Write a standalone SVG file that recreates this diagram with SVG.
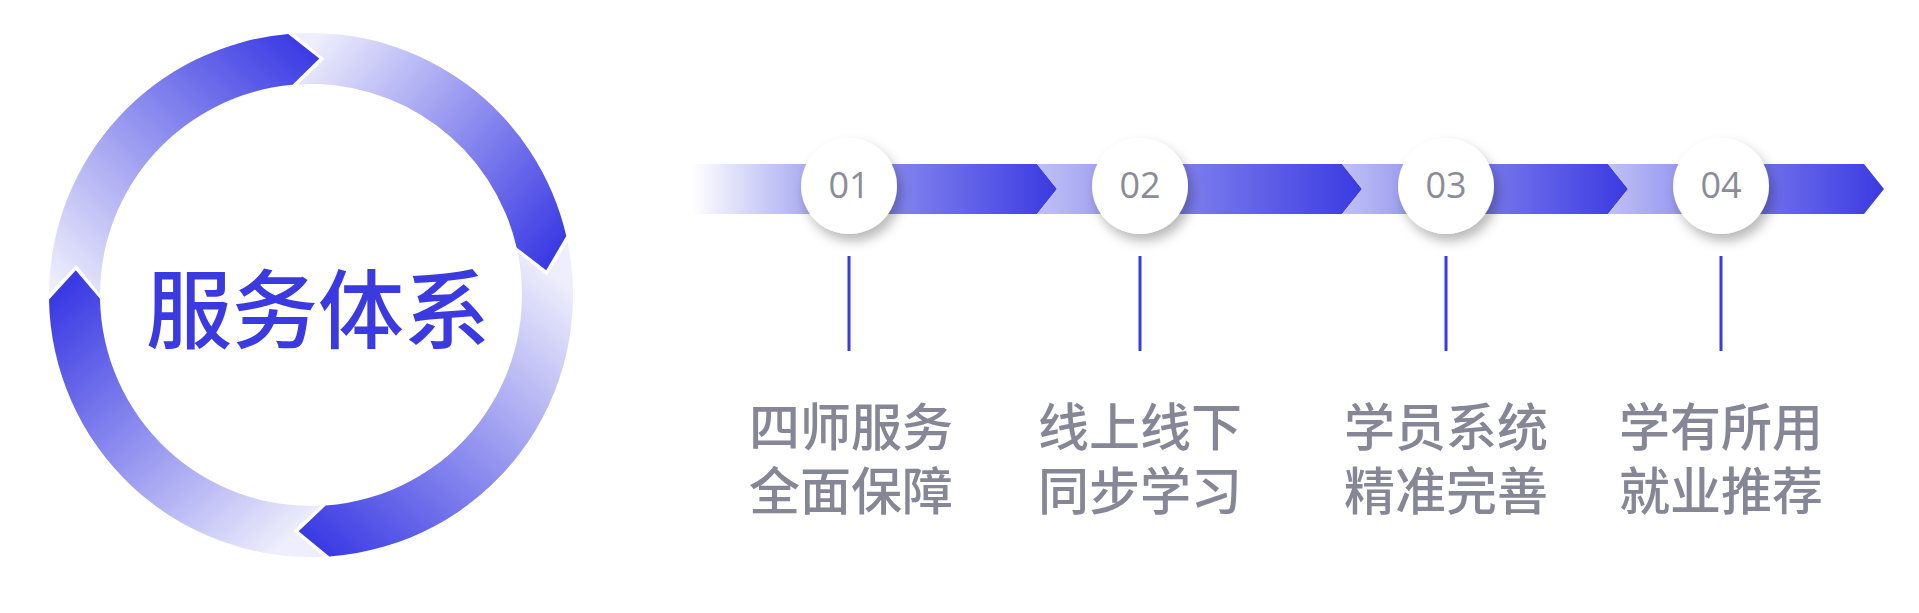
<svg xmlns="http://www.w3.org/2000/svg" width="1919" height="613" viewBox="0 0 1919 613">
<style>
.num{font-family:"Open Sans","Noto Sans",sans-serif;font-size:36px;fill:#8a8c99;text-anchor:middle}
.lab{font-family:"Noto Sans CJK SC","Noto Sans",sans-serif;font-size:51px;fill:#858796;text-anchor:middle;font-weight:500}
.vl{stroke:#3a3ae0;stroke-width:3}
.dot{fill:#fff;filter:url(#sh)}
</style>
<defs>
<filter id="sh" x="-50%" y="-50%" width="200%" height="200%"><feDropShadow dx="4" dy="7" stdDeviation="6" flood-color="#000" flood-opacity="0.28"/></filter>
<linearGradient id="gA" gradientUnits="userSpaceOnUse" x1="60" y1="290" x2="300" y2="40"><stop offset="0" stop-color="#eeeefc"/><stop offset="1" stop-color="#3a3ae4"/></linearGradient>
<linearGradient id="gB" gradientUnits="userSpaceOnUse" x1="300" y1="60" x2="550" y2="260"><stop offset="0" stop-color="#eeeefc"/><stop offset="1" stop-color="#3a3ae4"/></linearGradient>
<linearGradient id="gC" gradientUnits="userSpaceOnUse" x1="550" y1="270" x2="310" y2="540"><stop offset="0" stop-color="#eeeefc"/><stop offset="1" stop-color="#3a3ae4"/></linearGradient>
<linearGradient id="gD" gradientUnits="userSpaceOnUse" x1="300" y1="530" x2="75" y2="280"><stop offset="0" stop-color="#eeeefc"/><stop offset="1" stop-color="#3a3ae4"/></linearGradient>
<linearGradient id="s1" gradientUnits="userSpaceOnUse" x1="692" y1="0" x2="1057" y2="0"><stop offset="0" stop-color="#ffffff"/><stop offset="0.3" stop-color="#aeb0f2"/><stop offset="0.55" stop-color="#8485ee"/><stop offset="1" stop-color="#3a3ae2"/></linearGradient>
<linearGradient id="s2" gradientUnits="userSpaceOnUse" x1="1037" y1="0" x2="1362" y2="0"><stop offset="0" stop-color="#c0c1f5"/><stop offset="0.35" stop-color="#8a8bef"/><stop offset="1" stop-color="#3a3ae2"/></linearGradient>
<linearGradient id="s3" gradientUnits="userSpaceOnUse" x1="1342" y1="0" x2="1628" y2="0"><stop offset="0" stop-color="#c0c1f5"/><stop offset="0.35" stop-color="#8a8bef"/><stop offset="1" stop-color="#3a3ae2"/></linearGradient>
<linearGradient id="s4" gradientUnits="userSpaceOnUse" x1="1608" y1="0" x2="1884" y2="0"><stop offset="0" stop-color="#c0c1f5"/><stop offset="0.35" stop-color="#8a8bef"/><stop offset="1" stop-color="#3a3ae2"/></linearGradient>
</defs>
<g id="cycle">
<path fill="url(#gA)" d="M49,293.6 A262,262 0 0 1 288.2,34 L319.3,58.6 L292.6,84.8 A211,211 0 0 0 100,293.9 L76.4,265 Z"/>
<path fill="url(#gB)" d="M294.1,33.5 A262,262 0 0 1 566.3,236.1 L546.2,270.3 L516.6,247.5 A211,211 0 0 0 297.4,84.4 L324.6,58.9 Z"/>
<path fill="url(#gC)" d="M567.6,241.9 A262,262 0 0 1 329.3,556.4 L298.6,531.2 L325.7,505.5 A211,211 0 0 0 517.6,252.2 L546.7,275.6 Z"/>
<path fill="url(#gD)" d="M323.3,556.7 A262,262 0 0 1 49,299.6 L75.8,270.3 L100,298.7 A211,211 0 0 0 320.9,505.8 L293.3,530.8 Z"/>
<text x="318" y="342" font-family="Noto Sans CJK SC,Noto Sans,sans-serif" font-size="86" font-weight="500" fill="#3a3ae0" text-anchor="middle">服务体系</text>
</g>
<g id="connectors">
<path fill="url(#s1)" d="M692,164 L1037,164 L1057,189 L1037,214 L692,214 Z"/>
<path fill="url(#s2)" d="M1037,164 L1342,164 L1362,189 L1342,214 L1037,214 L1057,189 Z"/>
<path fill="url(#s3)" d="M1342,164 L1608,164 L1628,189 L1608,214 L1342,214 L1362,189 Z"/>
<path fill="url(#s4)" d="M1608,164 L1864,164 L1884,189 L1864,214 L1608,214 L1628,189 Z"/>
<line class="vl" x1="849" y1="256" x2="849" y2="351"/>
<line class="vl" x1="1140" y1="256" x2="1140" y2="351"/>
<line class="vl" x1="1446" y1="256" x2="1446" y2="351"/>
<line class="vl" x1="1721" y1="256" x2="1721" y2="351"/>
</g>
<g id="step1"><circle class="dot" cx="849" cy="186" r="48"/><text class="num" x="849" y="198">01</text><text class="lab" x="851" y="446">四师服务</text><text class="lab" x="851" y="510">全面保障</text></g>
<g id="step2"><circle class="dot" cx="1140" cy="186" r="48"/><text class="num" x="1140" y="198">02</text><text class="lab" x="1140" y="446">线上线下</text><text class="lab" x="1140" y="510">同步学习</text></g>
<g id="step3"><circle class="dot" cx="1446" cy="186" r="48"/><text class="num" x="1446" y="198">03</text><text class="lab" x="1446" y="446">学员系统</text><text class="lab" x="1446" y="510">精准完善</text></g>
<g id="step4"><circle class="dot" cx="1721" cy="186" r="48"/><text class="num" x="1721" y="198">04</text><text class="lab" x="1721" y="446">学有所用</text><text class="lab" x="1721" y="510">就业推荐</text></g>
</svg>
